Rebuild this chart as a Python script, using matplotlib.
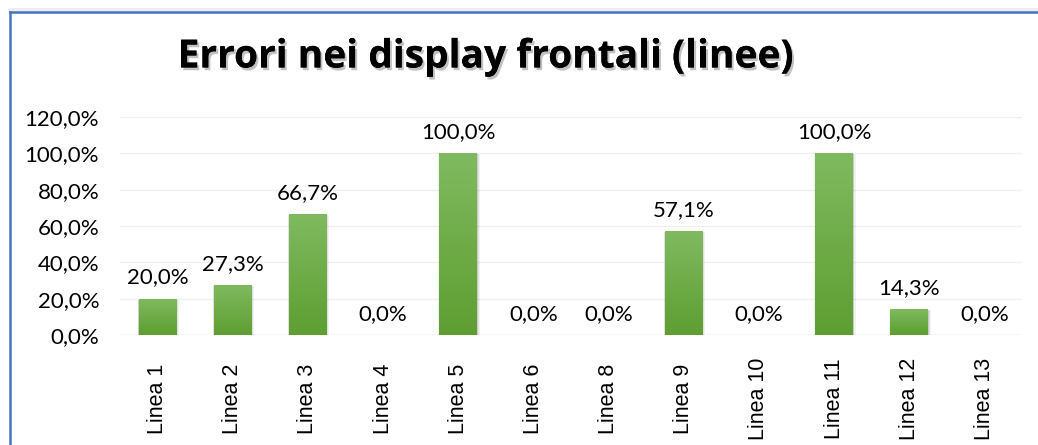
import matplotlib
matplotlib.use("Agg")
import matplotlib.pyplot as plt
import matplotlib.patheffects as pe
from matplotlib.lines import Line2D
from matplotlib.colors import LinearSegmentedColormap
import numpy as np

categories = ["Linea 1", "Linea 2", "Linea 3", "Linea 4", "Linea 5", "Linea 6",
              "Linea 8", "Linea 9", "Linea 10", "Linea 11", "Linea 12", "Linea 13"]
values = [20.0, 27.3, 66.7, 0.0, 100.0, 0.0, 0.0, 57.1, 0.0, 100.0, 14.3, 0.0]
yticks = [0, 20, 40, 60, 80, 100, 120]
title = "Errori nei display frontali (linee)"

FONT = "Lato"
FS = 16
fig = plt.figure(figsize=(10.38, 4.45), dpi=100)
ax = fig.add_axes([0.1156, 0.2472, 0.869, 0.4898])

x = np.arange(len(categories))

for t in yticks:
    ax.axhline(t, color="#f0f0f0" if t else "#d9d9d9", lw=1, zorder=0)

bars = ax.bar(x, values, width=0.5, color="#6aab3f", zorder=3)
grad = np.linspace(0, 1, 100).reshape(-1, 1)
cmap = LinearSegmentedColormap.from_list("g", ["#5e9e31", "#80ba60"])
for b in bars:
    h = b.get_height()
    if h <= 0:
        continue
    bx, bw = b.get_x(), b.get_width()
    for k, a in [(0.05, 0.05), (0.03, 0.07), (0.015, 0.09)]:
        ax.add_patch(plt.Rectangle((bx - k * 0.3, -0.8), bw + k, h + 0.2, color="black",
                                   alpha=a, zorder=2, lw=0))
    im = ax.imshow(grad, extent=(bx, bx + bw, 0, h), origin="lower",
                   cmap=cmap, aspect="auto", zorder=4)
    im.set_clip_path(b)
ax.set_xlim(-0.5, len(categories) - 0.5)
ax.set_ylim(0, 120)

for xi, v in zip(x, values):
    ax.annotate(f"{v:.1f}%".replace(".", ","), (xi, v), xytext=(0, 8),
                textcoords="offset points", ha="center", va="bottom",
                fontsize=FS, family=FONT, color="#000000", zorder=5)

ax.set_yticks(yticks)
ax.set_yticklabels([f"{t:.1f}%".replace(".", ",") for t in yticks],
                   fontsize=FS, family=FONT)
ax.set_xticks(x)
ax.set_xticklabels(categories, rotation=90, fontsize=15.5, family="Liberation Sans",
                   va="center", ha="center")
ax.tick_params(axis="both", length=0)
ax.tick_params(axis="y", pad=15)
ax.tick_params(axis="x", pad=46)
for s in ax.spines.values():
    s.set_visible(False)

fig.text(0.467, 0.872, title, ha="center", va="center", fontsize=28,
         fontweight="bold", family="Open Sans", color="#000000",
         path_effects=[pe.withSimplePatchShadow(offset=(1.5, -2), shadow_rgbFace="#666666", alpha=0.4),
                       pe.Normal()])

# frame border
fig.add_artist(Line2D([9.5 / 1038, 9.5 / 1038], [1 - 11.5 / 445, 0], color="#4472c4", lw=1.8))
fig.add_artist(Line2D([9.5 / 1038, 1], [1 - 11.5 / 445, 1 - 11.5 / 445], color="#4472c4", lw=1.8))
fig.add_artist(Line2D([9.5 / 1038, 1], [1 - 9 / 445, 1 - 9 / 445], color="#ececec", lw=2))

fig.savefig("out.png", dpi=100)
